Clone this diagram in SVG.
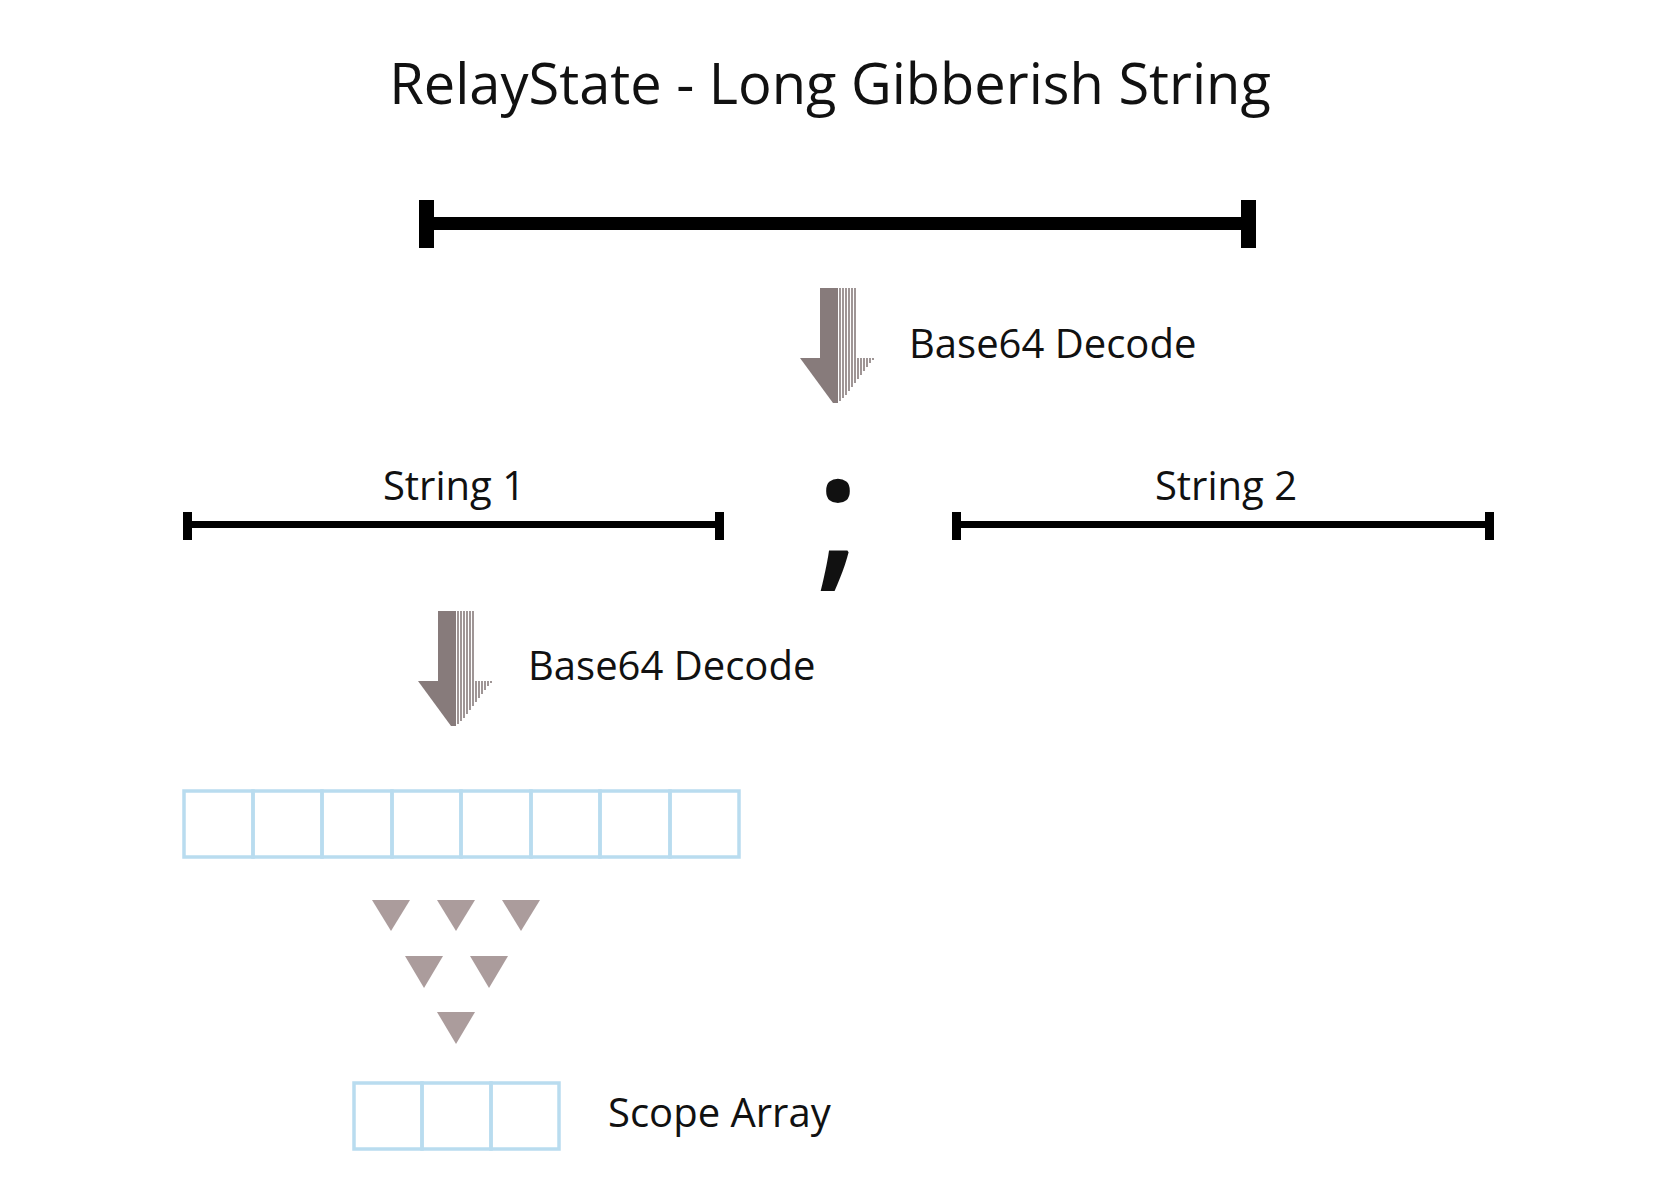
<svg xmlns="http://www.w3.org/2000/svg" width="1676" height="1192" viewBox="0 0 1676 1192">
<defs>
<style>
text{font-family:"Open Sans","Liberation Sans",sans-serif;fill:#111}
.lbl{font-size:40px}
.box{fill:none;stroke:#b9dcef;stroke-width:3.5}
.tri{fill:#ab9c9c}
</style>
<g id="arrowShape">
<rect x="820" y="288" width="18" height="70" fill="#877b7b"/>
<path d="M800 358H838V403H833Z" fill="#877b7b"/>
<g stroke="#877b7b" stroke-width="1.6">
<line x1="840" y1="288" x2="840" y2="401"/><line x1="843" y1="288" x2="843" y2="398"/><line x1="846" y1="288" x2="846" y2="395"/><line x1="849" y1="288" x2="849" y2="391"/><line x1="852" y1="288" x2="852" y2="387"/><line x1="855" y1="288" x2="855" y2="383"/><line x1="858" y1="358" x2="858" y2="379"/><line x1="861" y1="358" x2="861" y2="375"/><line x1="864" y1="358" x2="864" y2="371"/><line x1="867" y1="358" x2="867" y2="367"/><line x1="870" y1="358" x2="870" y2="363"/><line x1="873" y1="358" x2="873" y2="360"/>
</g>
</g>
</defs>
<rect width="1676" height="1192" fill="#fff"/>
<g id="title"><text x="830" y="104" text-anchor="middle" font-size="56">RelayState - Long Gibberish String</text></g>
<g id="fullString">
<rect x="426" y="217" width="821" height="13" fill="#000"/>
<rect x="419" y="200" width="15" height="48" fill="#000"/>
<rect x="1241" y="200" width="15" height="48" fill="#000"/>
</g>
<g id="decode1"><use href="#arrowShape"/><text class="lbl" x="909" y="358">Base64 Decode</text></g>
<g id="string1">
<text class="lbl" x="454" y="500" text-anchor="middle">String 1</text>
<rect x="188" y="521" width="531" height="7" fill="#000"/>
<rect x="183" y="512" width="9" height="28" fill="#000"/>
<rect x="715" y="512" width="9" height="28" fill="#000"/>
</g>
<g id="semicolon"><text x="838" y="570" text-anchor="middle" font-size="165" font-weight="600" fill="#000">;</text></g>
<g id="string2">
<text class="lbl" x="1226" y="500" text-anchor="middle">String 2</text>
<rect x="957" y="521" width="532" height="7" fill="#000"/>
<rect x="952" y="512" width="9" height="28" fill="#000"/>
<rect x="1485" y="512" width="9" height="28" fill="#000"/>
</g>
<g id="decode2"><use href="#arrowShape" transform="translate(-382,323)"/><text class="lbl" x="528" y="680">Base64 Decode</text></g>
<g id="byteArray">
<rect class="box" x="184" y="791" width="69" height="66"/><rect class="box" x="253" y="791" width="69" height="66"/><rect class="box" x="322" y="791" width="70" height="66"/><rect class="box" x="392" y="791" width="69" height="66"/><rect class="box" x="461" y="791" width="70" height="66"/><rect class="box" x="531" y="791" width="69" height="66"/><rect class="box" x="600" y="791" width="70" height="66"/><rect class="box" x="670" y="791" width="69" height="66"/>
</g>
<g id="funnel">
<path class="tri" d="M372 900h38l-19 31z"/><path class="tri" d="M437 900h38l-19 31z"/><path class="tri" d="M502 900h38l-19 31z"/>
<path class="tri" d="M405 956h38l-19 32z"/><path class="tri" d="M470 956h38l-19 32z"/>
<path class="tri" d="M437 1012h38l-19 32z"/>
</g>
<g id="scopeArray">
<rect class="box" x="354" y="1083" width="68" height="66"/><rect class="box" x="422" y="1083" width="69" height="66"/><rect class="box" x="491" y="1083" width="68" height="66"/>
<text class="lbl" x="608" y="1127">Scope Array</text>
</g>
</svg>
